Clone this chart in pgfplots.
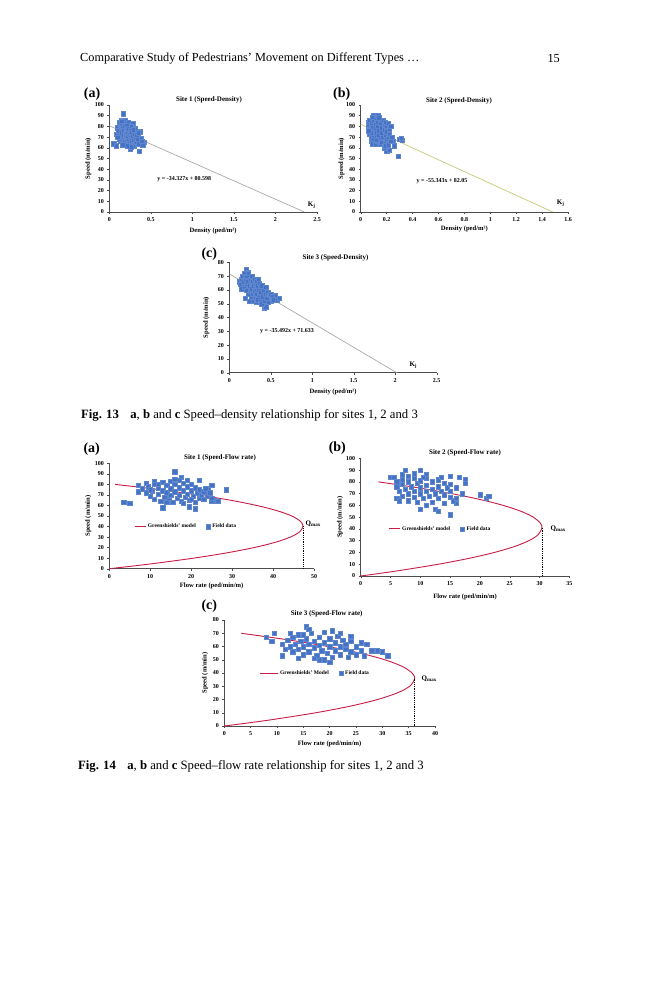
\documentclass[border=0pt]{standalone}
\usepackage{fontspec}
\setmainfont{Liberation Serif}
\usepackage{pgfplots}
\pgfplotsset{compat=1.18}

\definecolor{ptblue}{RGB}{68,114,196}
\definecolor{gcurve}{RGB}{200,30,70}
\definecolor{regline}{RGB}{160,160,160}
\definecolor{regyel}{RGB}{200,200,120}

\pgfplotsset{
  pagestyle/.style={
    scale only axis, anchor=south west,
    axis lines=left, axis line style={-, black!70, line width=0.5pt},
    tick align=outside, major tick length=2pt,
    tick style={black!70, line width=0.4pt},
    /pgf/number format/assume math mode=true,
    tick label style={font=\fontsize{6}{6.5}\selectfont\bfseries},
    label style={font=\fontsize{6.6}{7}\selectfont\bfseries},
    ylabel style={anchor=center},
    xlabel style={anchor=center},
    legend style={draw=none, fill=none, inner sep=0pt, legend columns=2,
      font=\fontsize{5.5}{6}\selectfont\bfseries,
      /tikz/every even column/.append style={column sep=8pt}},
  },
  scat/.style={only marks, mark=square*, mark size=2.2pt, color=ptblue,
    mark options={draw=ptblue!85!white, fill=ptblue, line width=0.3pt}},
  gline/.style={gcurve, line width=0.9pt, smooth},
}

\begin{document}
\begin{tikzpicture}
\begin{scope}[x=1pt,y=-1pt]
\path[use as bounding box, fill=white] (0,0) rectangle (659,1000);
\end{scope}

% ---------- Fig 13 (a)
\begin{axis}[pagestyle, at={(109.3pt,-212pt)}, width=207.7pt, height=107pt,
  xmin=0, xmax=2.5, ymin=0, ymax=100,
  xtick={0,0.5,1,1.5,2,2.5}, ytick={0,10,20,30,40,50,60,70,80,90,100},
  xlabel={Density (ped/m²)}, ylabel={Speed (m/min)},
  ylabel style={at={(axis description cs:-0.101,0.5)}},
  xlabel style={at={(axis description cs:0.5,-0.178)}}]
\addplot[regline, line width=0.6pt] coordinates {(0,80.598) (2.348,0)};
\addplot[scat] coordinates {
(0.17,92)(0.05,64)(0.08,62)(0.09,73)(0.10,79)(0.12,84)(0.14,86)(0.19,86)(0.23,84)(0.28,83)
(0.31,78)(0.37,75)(0.42,65)(0.40,63)(0.36,57)(0.25,59)(0.30,62)
(0.11,76)(0.12,72)(0.13,80)(0.14,77)(0.14,70)(0.15,82)(0.15,74)(0.16,79)(0.16,68)(0.17,76)
(0.17,72)(0.18,83)(0.18,80)(0.18,66)(0.19,74)(0.19,70)(0.20,78)(0.20,76)(0.20,68)(0.21,81)
(0.21,73)(0.21,65)(0.22,75)(0.22,70)(0.23,78)(0.23,67)(0.24,73)(0.24,64)(0.25,76)(0.25,70)
(0.26,80)(0.26,68)(0.27,74)(0.27,65)(0.28,71)(0.28,62)(0.29,77)(0.29,67)(0.30,73)(0.31,69)
(0.32,65)(0.33,72)(0.34,68)(0.35,74)(0.35,64)(0.38,69)(0.39,66)(0.13,66)(0.16,63)(0.12,68)
(0.10,70)(0.15,85)(0.22,62)(0.26,61)};
\end{axis}

% ---------- Fig 13 (b)
\begin{axis}[pagestyle, at={(360.7pt,-212pt)}, width=207.3pt, height=107pt,
  xmin=0, xmax=1.6, ymin=0, ymax=100,
  xtick={0,0.2,0.4,0.6,0.8,1,1.2,1.4,1.6}, ytick={0,10,20,30,40,50,60,70,80,90,100},
  xlabel={Density (ped/m²)}, ylabel={Speed (m/min)},
  ylabel style={at={(axis description cs:-0.092,0.5)}},
  xlabel style={at={(axis description cs:0.5,-0.159)}}]
\addplot[regyel, line width=0.7pt] coordinates {(0,82.05) (1.4826,0)};
\addplot[scat] coordinates {
(0.10,90)(0.13,90)(0.29,52)(0.30,68)(0.32,67)(0.31,69)(0.26,62)(0.25,66)(0.20,57)(0.22,58)(0.18,60)
(0.06,84)(0.06,80)(0.07,86)(0.07,77)(0.07,73)(0.08,82)(0.08,70)(0.08,66)(0.09,88)(0.09,79)
(0.09,75)(0.09,64)(0.10,85)(0.10,72)(0.10,68)(0.11,82)(0.11,78)(0.11,64)(0.12,87)(0.12,74)
(0.12,70)(0.13,84)(0.13,80)(0.13,66)(0.14,76)(0.14,72)(0.15,83)(0.15,68)(0.15,64)(0.16,79)
(0.16,74)(0.17,86)(0.17,70)(0.18,82)(0.18,77)(0.18,66)(0.19,84)(0.19,72)(0.19,62)(0.20,80)
(0.20,75)(0.20,68)(0.21,83)(0.21,70)(0.21,63)(0.22,78)(0.22,73)(0.23,66)(0.24,70)(0.23,80)
(0.14,88)(0.16,65)(0.12,67)(0.08,74)(0.06,76)};
\end{axis}

% ---------- Fig 13 (c)
\begin{axis}[pagestyle, at={(229.3pt,-372.7pt)}, width=207.4pt, height=110.4pt,
  xmin=0, xmax=2.5, ymin=0, ymax=80,
  xtick={0,0.5,1,1.5,2,2.5}, ytick={0,10,20,30,40,50,60,70,80},
  xlabel={Density (ped/m²)}, ylabel={Speed (m/min)},
  ylabel style={at={(axis description cs:-0.111,0.5)}},
  xlabel style={at={(axis description cs:0.5,-0.172)}}]
\addplot[regline, line width=0.6pt] coordinates {(0,71.633) (2.0183,0)};
\addplot[scat] coordinates {
(0.20,75)(0.22,73)(0.12,66)(0.13,64)(0.15,61)(0.19,54)(0.42,47)(0.44,48)(0.58,53)(0.55,56)
(0.60,54)(0.50,52)
(0.14,68)(0.16,70)(0.17,66)(0.18,72)(0.18,62)(0.19,68)(0.20,64)(0.21,70)(0.21,60)(0.22,66)
(0.23,72)(0.23,57)(0.24,63)(0.25,68)(0.25,59)(0.26,65)(0.26,54)(0.27,70)(0.27,61)(0.28,57)
(0.28,66)(0.29,63)(0.29,52)(0.30,68)(0.30,59)(0.31,55)(0.31,64)(0.32,61)(0.32,51)(0.33,66)
(0.33,57)(0.34,53)(0.34,63)(0.35,60)(0.36,56)(0.36,65)(0.37,52)(0.37,61)(0.38,58)(0.39,50)
(0.39,63)(0.40,55)(0.41,60)(0.42,52)(0.43,57)(0.44,62)(0.45,54)(0.46,58)(0.47,51)(0.48,56)
(0.50,57)(0.52,55)(0.53,53)(0.35,68)(0.24,52)};
\end{axis}

% ---------- Fig 14 (a)
\begin{axis}[pagestyle, at={(109.3pt,-568.7pt)}, width=204.7pt, height=105.4pt,
  xmin=0, xmax=50, ymin=0, ymax=100,
  xtick={0,10,20,30,40,50}, ytick={0,10,20,30,40,50,60,70,80,90,100},
  xlabel={Flow rate (ped/min/m)}, ylabel={Speed (m/min)},
  ylabel style={at={(axis description cs:-0.103,0.5)}},
  xlabel style={at={(axis description cs:0.5,-0.161)}},
  legend style={at={(axis cs:6,40)}, anchor=west}]
\addplot[gline, legend image code/.code={\draw[gcurve, line width=0.9pt] (0pt,0pt) -- (11pt,0pt);}]
 coordinates {(0,0)(5.69,2.5)(11.01,5)(20.57,10)(28.66,15)(35.31,20)(40.49,25)(44.22,30)
 (46.49,35)(47.31,40.3)(46.67,45)(44.57,50)(41.01,55)(36.00,60)(29.54,65)(21.61,70)(12.23,75)(5.90,78)(1.39,80)};
\addlegendentry{Greenshields' model}
\addplot[forget plot, black, densely dotted, line width=0.8pt] coordinates {(47.31,40.3)(47.31,0)};
\addplot[scat] coordinates {
(3.5,63)(5,62)(7,79)(7,73)(9,81)(28.5,75)(21,57)(19.5,59)(16,92)(17.5,87)(13,58)(25,64)
(26,65)(26.5,64)(24,76)(25,79)(22,84)(11,83)
(8,76)(9,72)(9.5,78)(10,69)(10.5,74)(11,80)(11,66)(12,77)(12,71)(12.5,64)(13,82)(13,74)
(13.5,68)(14,79)(14,72)(14.5,65)(15,83)(15,76)(15,70)(15.5,63)(16,80)(16,73)(16.5,67)(17,84)
(17,77)(17,70)(17.5,64)(18,81)(18,74)(18.5,68)(19,78)(19,71)(19.5,65)(20,80)(20,74)(20.5,69)
(21,77)(21,63)(21.5,72)(22,67)(22,75)(22.5,70)(23,73)(23,66)(23.5,76)(24,69)(24.5,72)(25,67)
(14,63)(16,85)(12,80)(18,62)(20,66)(19,84)(10,75)};
\addlegendentry{Field data}
\end{axis}

% ---------- Fig 14 (b)
\begin{axis}[pagestyle, at={(360.7pt,-576pt)}, width=208.6pt, height=117.7pt,
  xmin=0, xmax=35, ymin=0, ymax=100,
  xtick={0,5,10,15,20,25,30,35}, ytick={0,10,20,30,40,50,60,70,80,90,100},
  xlabel={Flow rate (ped/min/m)}, ylabel={Speed (m/min)},
  ylabel style={at={(axis description cs:-0.099,0.5)}},
  xlabel style={at={(axis description cs:0.5,-0.178)}},
  legend style={at={(axis cs:4.6,40)}, anchor=west}]
\addplot[gline, legend image code/.code={\draw[gcurve, line width=0.9pt] (0pt,0pt) -- (11pt,0pt);}]
 coordinates {(0,0)(3.59,2.5)(6.96,5)(13.02,10)(18.17,15)(22.42,20)(25.77,25)(28.21,30)
 (29.76,35)(30.41,41.03)(30.13,45)(28.96,50)(26.88,55)(23.91,60)(20.03,65)(15.24,70)(9.55,75)(2.96,80)};
\addlegendentry{Greenshields' model}
\addplot[forget plot, black, densely dotted, line width=0.8pt] coordinates {(30.41,41.03)(30.41,0)};
\addplot[scat] coordinates {
(5,84)(5.5,84)(7.5,90)(10,90)(11,86)(15,85)(16.5,84)(17.5,82)(17.5,79)(17,70)(20,69)(21,66)
(21.5,68)(15,52)(12.5,57)(13,55)(10,57)(16,62)(15.5,64)(16,66)
(6,80)(6,76)(6,66)(6.5,72)(6.5,64)(7,82)(7,78)(7,68)(7.5,74)(8,85)(8,80)(8,70)(8,64)(8.5,76)
(9,83)(9,72)(9,67)(9.5,79)(9.5,63)(10,81)(10,75)(10,70)(10.5,66)(11,83)(11,77)(11,72)(11.5,68)
(12,80)(12,74)(12,63)(12.5,70)(13,82)(13,76)(13,66)(13.5,72)(14,79)(14,69)(14.5,75)(15,72)
(15,67)(14,62)(11,60)(9,87)(7,86)(10.5,84)(13.5,84)(15,78)(16,75)};
\addlegendentry{Field data}
\end{axis}

% ---------- Fig 14 (c)
\begin{axis}[pagestyle, at={(224.3pt,-726pt)}, width=210.7pt, height=106pt,
  xmin=0, xmax=40, ymin=0, ymax=80,
  xtick={0,5,10,15,20,25,30,35,40}, ytick={0,10,20,30,40,50,60,70,80},
  xlabel={Flow rate (ped/min/m)}, ylabel={Speed (m/min)},
  ylabel style={at={(axis description cs:-0.092,0.5)}},
  xlabel style={at={(axis description cs:0.5,-0.17)}},
  legend style={at={(axis cs:6.6,40)}, anchor=west}]
\addplot[gline, legend image code/.code={\draw[gcurve, line width=0.9pt] (0pt,0pt) -- (18pt,0pt);}]
 coordinates {(0,0)(4.87,2.5)(9.39,5)(17.37,10)(23.93,15)(29.10,20)(32.85,25)(35.19,30)
 (36.14,35.8)(35.65,40)(33.77,45)(30.48,50)(25.78,55)(19.67,60)(12.15,65)(3.22,70)};
\addlegendentry{Greenshields' Model}
\addplot[forget plot, black, densely dotted, line width=0.8pt] coordinates {(36.14,35.8)(36.14,0)};
\addplot[scat] coordinates {
(8,67)(9,64)(9.5,70)(11,53)(12.5,70)(15.5,75)(16,73)(14,51)(18,50)(20,48)(26.5,53)(27,62)
(26,63)(29,57)(30,56)(31,53)(28,57)(24,68)(20.5,72)
(11,62)(11.5,58)(12,65)(12.5,60)(13,56)(13,67)(13.5,62)(14,58)(14,69)(14.5,64)(15,54)(15,60)
(15.5,66)(16,62)(16,56)(16.5,70)(17,59)(17,64)(17.5,53)(18,67)(18,61)(18.5,57)(19,71)(19,63)
(19.5,55)(20,66)(20,60)(20.5,52)(21,63)(21,57)(21.5,68)(22,60)(22,54)(22.5,65)(23,58)(23,62)
(23.5,52)(24,64)(24,56)(25,60)(25,54)(26,57)(19,50)(17,51)(22,70)(15,69)};
\addlegendentry{Field data}
\end{axis}

% ---------- texts
\begin{scope}[x=1pt,y=-1pt]
\node[anchor=west, inner sep=0pt, font=\fontsize{12.3}{14}\selectfont] at (80,59)
  {Comparative Study of Pedestrians’ Movement on Different Types …};
\node[anchor=east, inner sep=0pt, font=\fontsize{12.3}{14}\selectfont] at (560,59) {15};
\node[anchor=west, inner sep=0pt, font=\fontsize{12.7}{15}\selectfont] at (81,415)
  {\textbf{Fig. 13}\hspace{0.9em}\textbf{a}, \textbf{b} and \textbf{c} Speed–density relationship for sites 1, 2 and 3};
\node[anchor=west, inner sep=0pt, font=\fontsize{12.7}{15}\selectfont] at (78,766)
  {\textbf{Fig. 14}\hspace{0.9em}\textbf{a}, \textbf{b} and \textbf{c} Speed–flow rate relationship for sites 1, 2 and 3};
% panel labels
\begin{scope}[every node/.style={font=\fontsize{14}{16}\selectfont\bfseries, inner sep=0pt}]
\node at (92,94) {(a)};
\node at (341.7,94) {(b)};
\node at (209.3,254) {(c)};
\node at (91.7,449.3) {(a)};
\node at (337.3,448.3) {(b)};
\node at (209.3,606) {(c)};
\end{scope}
% titles
\begin{scope}[every node/.style={font=\fontsize{7}{8}\selectfont\bfseries, inner sep=0pt}]
\node at (209,100) {Site 1 (Speed-Density)};
\node at (459,100.7) {Site 2 (Speed-Density)};
\node at (335.5,258) {Site 3 (Speed-Density)};
\node at (220,457.7) {Site 1 (Speed-Flow rate)};
\node at (465,453) {Site 2 (Speed-Flow rate)};
\node at (326.7,614) {Site 3 (Speed-Flow rate)};
\end{scope}
% equations and labels
\begin{scope}[every node/.style={font=\fontsize{6}{7}\selectfont\bfseries, inner sep=0pt}]
\node at (184.3,179) {y = -34.327x + 80.598};
\node at (442,181) {y = -55.343x + 82.05};
\node at (287,330.7) {y = -35.492x + 71.633};
\end{scope}
\begin{scope}[every node/.style={font=\fontsize{7}{8}\selectfont\bfseries, inner sep=0pt}]
\node at (311.7,205.3) {K\textsubscript{j}};
\node at (560.7,203.3) {K\textsubscript{j}};
\node at (413.3,365.3) {K\textsubscript{j}};
\node[anchor=west] at (305.5,524) {Q\textsubscript{max}};
\node[anchor=west] at (550.5,528.3) {Q\textsubscript{max}};
\node[anchor=west] at (421.5,678.3) {Q\textsubscript{max}};
\end{scope}
\end{scope}
\end{tikzpicture}
\end{document}
